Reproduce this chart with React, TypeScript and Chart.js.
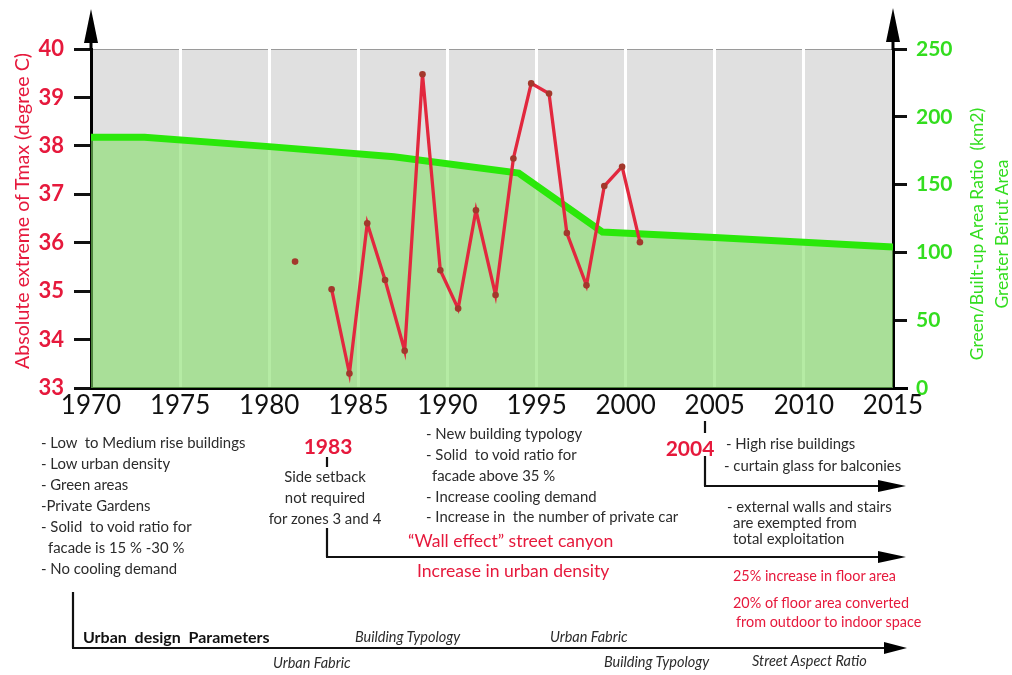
import React, { useEffect, useRef } from "react";
import { Chart, registerables } from "chart.js";

Chart.register(...registerables);

// ---- data ----
const tempYears = [1981.45, 1982.5, 1983.5, 1984.5, 1985.5, 1986.5, 1987.6, 1988.6, 1989.6, 1990.6, 1991.6, 1992.7, 1993.7, 1994.7, 1995.7, 1996.7, 1997.8, 1998.8, 1999.8, 2000.8];
const tempValues: (number | null)[] = [35.61, null, 35.04, 33.3, 36.4, 35.23, 33.77, 39.48, 35.43, 34.64, 36.67, 34.92, 37.74, 39.29, 39.08, 36.2, 35.12, 37.17, 37.57, 36.01];

const greenYears = [1970, 1973, 1980, 1987, 1994, 1998.7, 2005, 2010, 2015];
const greenValues = [185, 185, 178, 170.5, 158.5, 115, 111, 107.5, 104];

const xRange = [1970, 2015];
const tempRange = [33, 40];
const greenRange = [0, 250];

const leftTitle = "Absolute extreme of Tmax (degree C)";
const rightTitle = ["Green/Built-up Area Ratio  (km2)", "Greater Beirut Area"];

const RED = "#e6193c";
const GREEN_TXT = "#33dd1f";
const GREY_TXT = "#2b2b2b";
const FONT = "Lato, 'Open Sans', sans-serif";

const bgPlugin = {
  id: "bgPlugin",
  beforeDraw(chart: any) {
    const { ctx, chartArea: a } = chart;
    ctx.save();
    ctx.fillStyle = "#e0e0e0";
    ctx.fillRect(a.left, a.top, a.right - a.left, a.bottom - a.top);
    ctx.strokeStyle = "#9a9a9a";
    ctx.lineWidth = 1;
    ctx.beginPath();
    ctx.moveTo(a.left, a.top + 0.5);
    ctx.lineTo(a.right, a.top + 0.5);
    ctx.stroke();
    ctx.restore();
  },
};

type TProps = { x: number; y: number; c?: string; s?: number; w?: any; i?: boolean; center?: boolean; children: any };
function T({ x, y, c = GREY_TXT, s = 14.9, w = "normal", i = false, center = false, children }: TProps) {
  return (
    <div
      style={{
        position: "absolute",
        left: x,
        top: y,
        transform: center ? "translate(-50%,-50%)" : "translateY(-50%)",
        whiteSpace: "pre",
        lineHeight: 1,
        color: c,
        fontSize: s,
        fontWeight: w,
        fontStyle: i ? "italic" : "normal",
        fontFamily: FONT,
        textAlign: center ? "center" : "left",
      }}
    >
      {children}
    </div>
  );
}

export default function App() {
  const ref = useRef<HTMLCanvasElement>(null);

  useEffect(() => {
    if (!ref.current) return;
    const chart = new Chart(ref.current, {
      type: "line",
      data: {
        datasets: [
          {
            label: "Tmax",
            data: tempYears.map((x, k) => ({ x, y: tempValues[k] })) as any,
            yAxisID: "y",
            borderColor: "#e2283e",
            borderWidth: 3.3,
            pointRadius: 3.3,
            pointBackgroundColor: "#a3382c",
            pointBorderWidth: 0,
            spanGaps: false,
            tension: 0,
            order: 0,
          },
          {
            label: "Green",
            data: greenYears.map((x, k) => ({ x, y: greenValues[k] })),
            yAxisID: "y2",
            borderColor: "#2ae80a",
            borderWidth: 7,
            fill: "origin",
            backgroundColor: "rgba(131,222,104,0.6)",
            pointRadius: 0,
            tension: 0,
            order: 1,
          },
        ],
      },
      options: {
        responsive: false,
        animation: false,
        layout: { padding: { top: 49, left: 0, right: 0, bottom: 0 } },
        plugins: { legend: { display: false }, tooltip: { enabled: false } },
        scales: {
          x: {
            type: "linear",
            min: xRange[0],
            max: xRange[1],
            ticks: {
              stepSize: 5,
              color: "#111",
              font: { family: FONT, size: 26 },
              padding: 2,
              callback: (v: any) => String(v),
            },
            grid: {
              color: (ctx: any) =>
                ctx.tick && (ctx.tick.value === xRange[0] || ctx.tick.value === xRange[1]) ? "rgba(0,0,0,0)" : "#ffffff",
              lineWidth: 3,
              drawTicks: false,
            },
            border: { display: true, color: "#000", width: 3 },
            afterFit: (s: any) => {
              s.height = 675 - 388;
            },
          },
          y: {
            type: "linear",
            position: "left",
            min: tempRange[0],
            max: tempRange[1],
            ticks: { stepSize: 1, color: RED, font: { family: FONT, size: 22, weight: "bold" }, padding: 10 },
            grid: { drawOnChartArea: false, color: "#111", lineWidth: 3, tickLength: 17 },
            border: { display: true, color: "#000", width: 3 },
            afterFit: (s: any) => {
              s.width = 91;
            },
          },
          y2: {
            type: "linear",
            position: "right",
            min: greenRange[0],
            max: greenRange[1],
            ticks: { stepSize: 50, color: GREEN_TXT, font: { family: FONT, size: 21, weight: "bold" }, padding: 9 },
            grid: { drawOnChartArea: false, color: "#111", lineWidth: 3, tickLength: 14 },
            border: { display: true, color: "#000", width: 3 },
            afterFit: (s: any) => {
              s.width = 1012 - 893;
            },
          },
        },
      } as any,
      plugins: [bgPlugin],
    });
    return () => chart.destroy();
  }, []);

  return (
    <div style={{ position: "fixed", left: 0, top: 0, width: 1012, height: 675, background: "#fff", overflow: "hidden" }}>
      <canvas ref={ref} width={1012} height={675} style={{ position: "absolute", left: 0, top: 0, width: 1012, height: 675 }} />
      <svg width={1012} height={675} style={{ position: "absolute", left: 0, top: 0, pointerEvents: "none" }}>
        <g stroke="#000" strokeWidth={3} fill="none">
          <line x1={91} y1={50} x2={91} y2={38} />
          <line x1={893} y1={50} x2={893} y2={38} />
          <line x1={893} y1={388.5} x2={908} y2={388.5} />
        </g>
        <g stroke="#111" strokeWidth={2.2} fill="none">
          <line x1={327} y1={457} x2={327} y2={467} />
          <line x1={327} y1={528} x2={327} y2={557} />
          <line x1={326} y1={557} x2={882} y2={557} />
          <line x1={705} y1={421} x2={705} y2={433} />
          <line x1={705} y1={456} x2={705} y2={486} />
          <line x1={704} y1={486} x2={882} y2={486} />
          <line x1={73} y1={592} x2={73} y2={648} />
          <line x1={72} y1={648} x2={887} y2={648} />
        </g>
        <g fill="#000">
          <polygon points="91,9 84,43 98,43" />
          <polygon points="893,8 886,42 900,42" />
          <polygon points="878,551 906,557 878,563" />
          <polygon points="878,480 906,486 878,492" />
          <polygon points="884,642 907,648 884,654" />
        </g>
      </svg>

      {/* axis titles */}
      <div
        style={{
          position: "absolute", left: 22, top: 211, transform: "translate(-50%,-50%) rotate(-90deg)",
          whiteSpace: "pre", color: RED, fontSize: 19.6, fontFamily: FONT, lineHeight: 1,
        }}
      >
        {leftTitle}
      </div>
      <div
        style={{
          position: "absolute", left: 989, top: 234, transform: "translate(-50%,-50%) rotate(-90deg)",
          whiteSpace: "pre", color: GREEN_TXT, fontSize: 17.5, fontFamily: FONT, lineHeight: "25px", textAlign: "center",
        }}
      >
        {rightTitle.join("\n")}
      </div>

      {/* left block */}
      <T x={41} y={442}>- Low  to Medium rise buildings</T>
      <T x={41} y={463}>- Low urban density</T>
      <T x={41} y={484}>- Green areas</T>
      <T x={41} y={505}>-Private Gardens</T>
      <T x={41} y={526}>- Solid  to void ratio for</T>
      <T x={48} y={547}>facade is 15 % -30 %</T>
      <T x={41} y={568}>- No cooling demand</T>

      {/* 1983 */}
      <T x={328} y={445} c={RED} s={21} w="bold" center>1983</T>
      <T x={325} y={476} center>Side setback</T>
      <T x={325} y={497} center>not required</T>
      <T x={325} y={518} center>for zones 3 and 4</T>

      {/* middle block */}
      <T x={426} y={433}>- New building typology</T>
      <T x={426} y={454}>- Solid  to void ratio for</T>
      <T x={432} y={475}>facade above 35 %</T>
      <T x={426} y={496}>- Increase cooling demand</T>
      <T x={426} y={516}>- Increase in  the number of private car</T>
      <T x={408} y={541} c={RED} s={17.6}>“Wall effect” street canyon</T>
      <T x={417} y={571} c={RED} s={17.6}>Increase in urban density</T>

      {/* 2004 */}
      <T x={690} y={447} c={RED} s={21} w="bold" center>2004</T>
      <T x={726} y={443}>- High rise buildings</T>
      <T x={724} y={465}>- curtain glass for balconies</T>
      <T x={727} y={506}>- external walls and stairs</T>
      <T x={733} y={522}>are exempted from</T>
      <T x={733} y={538}>total exploitation</T>
      <T x={733} y={576} c={RED} s={14.4}>25% increase in floor area</T>
      <T x={733} y={603} c={RED} s={14.4}>20% of floor area converted</T>
      <T x={736} y={622} c={RED} s={14.4}>from outdoor to indoor space</T>

      {/* bottom timeline */}
      <T x={83} y={637} c="#111" s={16} w="bold">Urban  design  Parameters</T>
      <T x={355} y={637} c={GREY_TXT} s={14.5} i>Building Typology</T>
      <T x={550} y={637} c={GREY_TXT} s={14.5} i>Urban Fabric</T>
      <T x={273} y={663} c={GREY_TXT} s={14.5} i>Urban Fabric</T>
      <T x={604} y={662} c={GREY_TXT} s={14.5} i>Building Typology</T>
      <T x={752} y={661} c={GREY_TXT} s={14.5} i>Street Aspect Ratio</T>
    </div>
  );
}
